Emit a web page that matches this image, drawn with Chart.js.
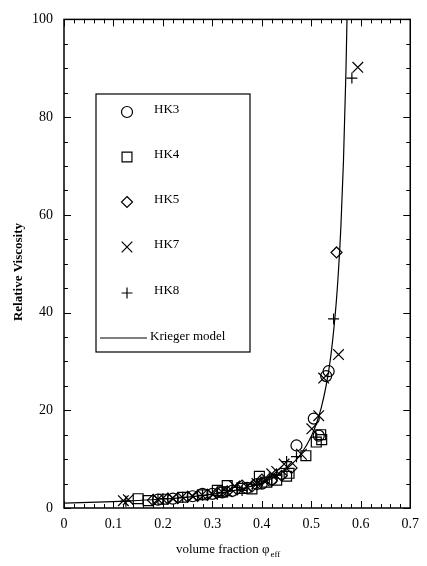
<!DOCTYPE html>
<html><head><meta charset="utf-8">
<script src="https://cdn.jsdelivr.net/npm/chart.js@4.4.1/dist/chart.umd.min.js"></script>
<style>html,body{margin:0;padding:0;background:#fff}canvas{display:block}</style>
</head><body>
<canvas id="c" width="427" height="566" style="width:427px;height:566px"></canvas>
<script>
// ---- data ----
const xTickValues = [0, 0.1, 0.2, 0.3, 0.4, 0.5, 0.6, 0.7];
const yTickValues = [0, 20, 40, 60, 80, 100];

const hk3Phi = [0.19, 0.22, 0.26, 0.28, 0.30, 0.32, 0.34, 0.37, 0.39, 0.40, 0.42, 0.44, 0.47, 0.505, 0.515, 0.535, 0.53];
const hk3Eta = [1.7, 1.9, 2.4, 2.9, 2.9, 3.2, 3.5, 4.1, 4.9, 5.0, 5.9, 7.0, 12.8, 18.3, 14.8, 28.0, 27.0];

const hk4Phi = [0.15, 0.17, 0.20, 0.24, 0.28, 0.31, 0.32, 0.33, 0.36, 0.38, 0.395, 0.41, 0.43, 0.45, 0.455, 0.489, 0.519, 0.521, 0.51];
const hk4Eta = [1.9, 1.5, 1.8, 2.2, 2.7, 3.6, 3.3, 4.6, 4.0, 3.9, 6.5, 5.3, 5.7, 6.5, 7.1, 10.7, 15.0, 14.0, 13.5];

const hk5Phi = [0.18, 0.21, 0.23, 0.25, 0.27, 0.29, 0.31, 0.33, 0.35, 0.36, 0.38, 0.40, 0.42, 0.44, 0.46, 0.551];
const hk5Eta = [1.6, 1.9, 2.0, 2.3, 2.5, 2.7, 3.1, 3.4, 3.8, 4.6, 4.4, 5.8, 5.6, 6.6, 8.2, 52.3];

const hk7Phi = [0.12, 0.13, 0.19, 0.22, 0.26, 0.30, 0.33, 0.345, 0.37, 0.39, 0.405, 0.42, 0.43, 0.445, 0.48, 0.501, 0.515, 0.525, 0.555, 0.594];
const hk7Eta = [1.5, 1.7, 1.8, 2.0, 2.4, 2.8, 3.3, 4.5, 4.3, 5.0, 5.5, 7.0, 7.5, 9.0, 11.0, 16.2, 18.9, 26.6, 31.4, 90.2];

const hk8Phi = [0.125, 0.20, 0.24, 0.28, 0.32, 0.35, 0.36, 0.39, 0.415, 0.43, 0.45, 0.47, 0.545, 0.582];
const hk8Eta = [1.4, 1.9, 2.2, 2.6, 3.2, 4.2, 3.6, 4.8, 6.2, 6.8, 9.5, 10.5, 38.7, 88.0];

const kriegerPhi = [0, 0.05, 0.10, 0.15, 0.20, 0.25, 0.30, 0.35, 0.40, 0.43, 0.46, 0.48, 0.50, 0.51, 0.52, 0.53, 0.54, 0.55, 0.555, 0.56, 0.565, 0.57, 0.5725];
const kriegerEta = [1.0, 1.14, 1.31, 1.54, 1.84, 2.24, 2.83, 3.72, 5.2, 6.6, 8.9, 11.2, 14.7, 17.2, 20.5, 25.1, 31.6, 41.6, 48.7, 58.1, 71.0, 89.4, 101.9];

const seriesNames = ['HK3', 'HK4', 'HK5', 'HK7', 'HK8'];
const seriesStyles = ['circle', 'rect', 'rectRot', 'crossRot', 'cross'];
const modelName = 'Krieger model';

// ---- build ----
const pts = (xs, ys) => xs.map((x, i) => ({x: x, y: ys[i]}));
const phis = [hk3Phi, hk4Phi, hk5Phi, hk7Phi, hk8Phi];
const etas = [hk3Eta, hk4Eta, hk5Eta, hk7Eta, hk8Eta];
const radii = [5.5, 7, 5.5, 7.5, 5.5];

const datasets = seriesNames.map((n, i) => ({
  type: 'scatter', label: n, data: pts(phis[i], etas[i]),
  pointStyle: seriesStyles[i], pointRadius: radii[i], pointBorderWidth: 1.2,
  pointBorderColor: '#000', pointBackgroundColor: 'rgba(0,0,0,0)', showLine: false
}));
datasets.push({
  type: 'line', label: modelName, data: pts(kriegerPhi, kriegerEta),
  borderColor: '#000', borderWidth: 1.2, pointRadius: 0, fill: false,
  cubicInterpolationMode: 'monotone'
});

const SERIF = "'Liberation Serif', 'DejaVu Serif', serif";

function drawMarker(ctx, style, r, x, y) {
  ctx.beginPath();
  if (style === 'circle') { ctx.arc(x, y, r, 0, Math.PI * 2); }
  else if (style === 'rect') { const s = r * Math.SQRT1_2; ctx.rect(x - s, y - s, 2 * s, 2 * s); }
  else if (style === 'rectRot') { ctx.moveTo(x, y - r); ctx.lineTo(x + r, y); ctx.lineTo(x, y + r); ctx.lineTo(x - r, y); ctx.closePath(); }
  else if (style === 'crossRot') { const s = r * Math.SQRT1_2; ctx.moveTo(x - s, y - s); ctx.lineTo(x + s, y + s); ctx.moveTo(x + s, y - s); ctx.lineTo(x - s, y + s); }
  else if (style === 'cross') { ctx.moveTo(x, y - r); ctx.lineTo(x, y + r); ctx.moveTo(x - r, y); ctx.lineTo(x + r, y); }
  ctx.stroke();
}

const framePlugin = {
  id: 'frame',
  afterDraw(chart) {
    const {ctx, chartArea: a, scales: {x, y}} = chart;
    ctx.save();
    ctx.strokeStyle = '#000';
    ctx.lineWidth = 1.5;
    ctx.strokeRect(a.left, a.top, a.right - a.left, a.bottom - a.top);
    ctx.lineWidth = 1;
    ctx.beginPath();
    for (let i = 0; i <= 35; i++) {
      const px = Math.round(x.getPixelForValue(i * 0.02)) + 0.5;
      const len = (i % 5 === 0) ? 7 : 4;
      ctx.moveTo(px, a.bottom); ctx.lineTo(px, a.bottom - len);
      ctx.moveTo(px, a.top); ctx.lineTo(px, a.top + len);
    }
    for (let j = 0; j <= 20; j++) {
      const py = Math.round(y.getPixelForValue(j * 5)) + 0.5;
      const len = (j % 4 === 0) ? 7 : 4;
      ctx.moveTo(a.left, py); ctx.lineTo(a.left + len, py);
      ctx.moveTo(a.right, py); ctx.lineTo(a.right - len, py);
    }
    ctx.stroke();

    ctx.fillStyle = '#000';
    ctx.save();
    ctx.translate(19, 272);
    ctx.rotate(-Math.PI / 2);
    ctx.font = 'bold 13px ' + SERIF;
    ctx.textAlign = 'center'; ctx.textBaseline = 'middle';
    ctx.fillText('Relative Viscosity', 0, 0);
    ctx.restore();

    ctx.font = '13px ' + SERIF;
    ctx.textAlign = 'left'; ctx.textBaseline = 'alphabetic';
    const main = 'volume fraction \u03c6';
    ctx.fillText(main, 176, 553);
    const w = ctx.measureText(main).width;
    ctx.font = '9px ' + SERIF;
    ctx.fillText('eff', 176 + w + 1, 557);

    const L = 96, T = 94, R = 250, B = 352;
    ctx.lineWidth = 1.2;
    ctx.strokeRect(L, T, R - L, B - T);
    ctx.lineWidth = 1.2;
    ctx.font = '13px ' + SERIF;
    ctx.textBaseline = 'middle';
    const rowY = [112, 157, 202, 247, 293, 338];
    seriesNames.forEach((n, i) => {
      drawMarker(ctx, seriesStyles[i], radii[i], 127, rowY[i]);
      ctx.fillText(n, 154, rowY[i] - 2);
    });
    ctx.lineWidth = 1;
    ctx.beginPath();
    ctx.moveTo(100, rowY[5]); ctx.lineTo(147, rowY[5]);
    ctx.stroke();
    ctx.fillText(modelName, 150, rowY[5] - 1);
    ctx.restore();
  }
};

new Chart(document.getElementById('c'), {
  data: {datasets},
  options: {
    responsive: false, animation: false, devicePixelRatio: 1,
    layout: {padding: {top: 15, right: 15, left: 0, bottom: 0}},
    plugins: {legend: {display: false}, tooltip: {enabled: false}},
    scales: {
      x: {
        type: 'linear', min: 0, max: 0.7,
        afterBuildTicks: s => { s.ticks = xTickValues.map(v => ({value: v})); },
        afterFit: s => { s.height = 58; },
        grid: {display: false, drawTicks: false}, border: {display: false},
        ticks: {color: '#000', padding: 8, font: {family: SERIF, size: 14},
          callback: v => (v === 0 ? '0' : v.toFixed(1))}
      },
      y: {
        type: 'linear', min: 0, max: 100,
        afterBuildTicks: s => { s.ticks = yTickValues.map(v => ({value: v})); },
        afterFit: s => { s.width = 64; },
        grid: {display: false, drawTicks: false}, border: {display: false},
        ticks: {color: '#000', padding: 11, font: {family: SERIF, size: 14},
          callback: v => String(v)}
      }
    }
  },
  plugins: [framePlugin]
});
</script>
</body></html>
